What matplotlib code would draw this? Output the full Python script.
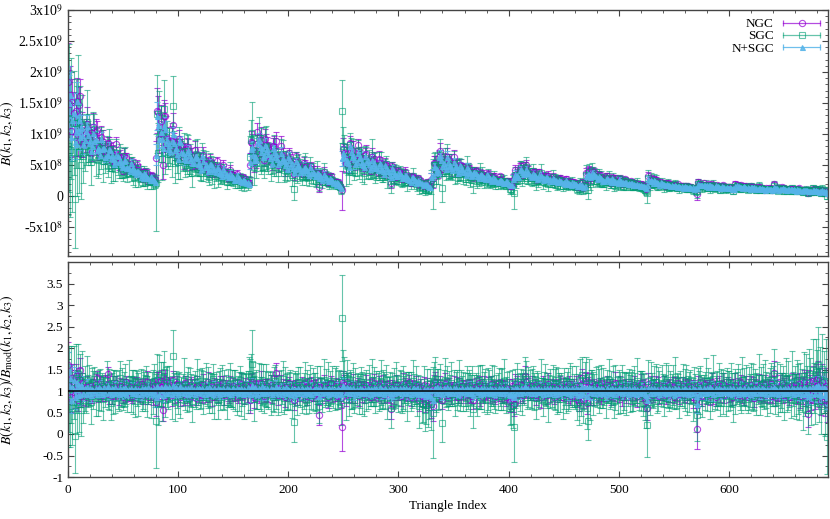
import numpy as np
import matplotlib
matplotlib.use("Agg")
import matplotlib.pyplot as plt
from matplotlib.lines import Line2D
from matplotlib.legend_handler import HandlerBase
from matplotlib.ticker import MultipleLocator, FixedLocator

# ─── DATA ──────────────────────────────────────────────────────────────────
# best-fit model shape per triangle (N+SGC), units of 1e7
MODEL_1E7 = [
    # block 1 (0-79)
    110, 130, 125, 118, 112, 107, 102, 98, 128, 118, 110, 103, 97, 92, 88, 84,
    112, 103, 95, 89, 84, 80, 76, 100, 92, 85, 79, 74, 70, 67, 88, 81, 75, 70, 66, 62, 59,
    78, 72, 66, 62, 58, 55, 52, 68, 63, 58, 54, 51, 48, 46, 58, 53, 49, 46, 43, 41,
    50, 46, 43, 40, 37, 35, 42, 39, 36, 34, 32, 30, 36, 33, 31, 29, 27, 26, 30, 28, 26, 24, 23,
    # block 2 (80-164)
    78, 115, 108, 100, 94, 89, 85, 105, 97, 90, 84, 79, 75, 71, 94, 87, 81, 76, 71, 67, 64,
    84, 78, 72, 67, 63, 60, 57, 75, 69, 64, 60, 56, 53, 50, 67, 62, 57, 53, 50, 47, 45,
    60, 55, 51, 48, 45, 42, 40, 53, 49, 45, 42, 40, 38, 47, 43, 40, 37, 35, 33,
    41, 38, 35, 33, 31, 29, 36, 33, 31, 29, 27, 25, 31, 29, 27, 25, 23, 22, 27, 25, 23, 21, 20, 19,
    # block 3 (165-248)
    60, 72, 68, 64, 61, 58, 56, 90, 84, 78, 73, 69, 65, 62, 82, 76, 71, 66, 62, 59, 56,
    75, 69, 64, 60, 57, 54, 51, 68, 63, 58, 54, 51, 48, 46, 61, 56, 52, 49, 46, 43, 41,
    55, 51, 47, 44, 41, 39, 37, 49, 45, 42, 39, 37, 35, 43, 40, 37, 35, 33, 31,
    38, 35, 33, 31, 29, 27, 33, 31, 29, 27, 25, 23, 28, 26, 24, 22, 21, 19, 22, 20, 18, 16, 14,
    # block 4 (249-329)
    55, 62, 59, 56, 53, 51, 49, 75, 70, 65, 61, 58, 55, 52, 68, 63, 59, 55, 52, 49, 47,
    62, 57, 53, 50, 47, 45, 57, 53, 49, 46, 43, 41, 52, 48, 45, 42, 40, 38,
    47, 44, 41, 38, 36, 34, 42, 39, 36, 34, 32, 30, 38, 35, 33, 31, 29, 27,
    34, 31, 29, 27, 25, 24, 30, 28, 26, 24, 22, 21, 26, 24, 22, 21, 19, 18, 22, 20, 19, 17, 16, 14,
    # block 5 (330-403)
    35, 42, 45, 43, 41, 39, 37, 66, 61, 57, 53, 50, 47, 45, 58, 54, 50, 47, 44, 42,
    52, 48, 45, 42, 40, 38, 48, 44, 41, 39, 37, 35, 44, 41, 38, 36, 34, 32,
    40, 37, 35, 33, 31, 29, 36, 34, 32, 30, 28, 27, 33, 31, 29, 27, 25, 24,
    30, 28, 26, 24, 23, 22, 27, 25, 23, 22, 21, 20, 24, 22, 21, 20, 19, 17,
    # block 6 (404-469)
    30, 36, 34, 32, 31, 30, 44, 41, 38, 36, 34, 33, 40, 37, 35, 33, 31, 30,
    36, 34, 32, 30, 28, 27, 34, 32, 30, 28, 27, 26, 31, 29, 27, 26, 25, 24,
    28, 26, 25, 24, 23, 22, 26, 24, 23, 22, 21, 20, 24, 22, 21, 20, 19, 18,
    21, 20, 19, 18, 17, 16, 19, 18, 17, 16, 15, 14,
    # block 7 (470-525)
    30, 36, 34, 32, 31, 30, 38, 35, 33, 31, 29, 28, 31, 29, 27, 26, 25, 24,
    29, 27, 26, 25, 24, 23, 27, 25, 24, 23, 22, 21, 25, 24, 23, 22, 21, 20,
    23, 22, 21, 20, 19, 21, 20, 19, 18, 17, 19, 18, 17, 16, 16, 17, 16, 15, 15, 14,
    # block 8 (526-569)
    22, 26, 25, 24, 23, 22, 24, 23, 22, 21, 20, 19, 21, 20, 19, 18, 18, 17,
    19, 18, 17, 17, 16, 16, 17, 16, 16, 15, 15, 16, 15, 15, 14, 14,
    15, 14, 14, 13, 13, 14, 13, 13, 12, 12,
    # block 9 (570-605)
    14, 19, 19, 18, 17, 17, 18, 17, 17, 16, 16, 15, 17, 16, 16, 15, 15, 14,
    16, 15, 15, 14, 14, 13, 15, 14, 14, 13, 13, 12, 14, 13, 13, 12, 12, 11,
    # block 10 (606-640)
    16, 16, 15, 15, 14, 14, 13, 15, 15, 14, 14, 13, 13, 12, 14, 14, 13, 13, 12, 12, 11,
    13, 13, 12, 12, 11, 11, 10, 12, 12, 11, 11, 10, 10, 10,
    # block 11 (641-689)
    13, 13, 12, 12, 11, 11, 11, 12, 12, 11, 11, 10, 10, 10, 11, 11, 10, 10, 10, 9, 9,
    10, 10, 10, 9, 9, 9, 8, 10, 9, 9, 9, 8, 8, 8, 9, 9, 8, 8, 8, 7, 7,
    8, 8, 8, 7, 7, 7, 6,
]

# amplitude of each sample's best-fit model relative to MODEL_1E7
AMP_NGC = 1.04
AMP_SGC = 0.92
AMP_NSGC = 1.00

# (B / B_mod - 1) in units of 0.01
NGC_DEV = [
    60, 10, 25, -15, 30, 20, -10, 35, 15, -20, 28, 50, -12, 18, -8, 4, -14, 9, 0, -6, 12, 2, -10, 7, 1, 16, 30, -4, 8, -2,
    3, -9, 11, 0, -5, 14, 40, -7, 2, 6, -12, 9, -1, 4, 18, -3, -8, 12, 1, 5, -15, 7, 0, 20, -6, 3, 10, -2, -11, 6,
    0, 8, -4, 13, 2, -10, 5, 17, -7, 1, 9, -3, 22, -13, 4, 0, 11, -6, 3, 15, -25, 15, 20, -12, 24, 10, -44, 18, 28, -10,
    5, -2, 12, 0, -9, 26, 3, -5, 8, 16, -1, 6, -14, 10, 2, -7, 19, 1, -4, 9, 0, -11, 13, 4, -3, 7, -16, 11, 1, -6,
    8, 2, -10, 14, 0, -5, 6, 21, -8, 3, 1, -13, 9, 4, -2, 15, -7, 0, 11, -4, 5, 18, -9, 2, 7, -1, -12, 10, 3, -3,
    12, -6, 1, 9, -15, 4, 0, 17, -3, 6, -9, 13, 2, -1, 8, -20, 16, 20, 12, -14, 5, 0, 10, -7, 3, 19, -4, 1, -11, 7,
    2, 11, -5, 0, 15, -8, 4, 9, -2, 42, 6, -10, 1, 13, -4, 7, 0, -13, 10, 3, -6, 18, 1, -3, 8, -20, 5, 12, -9, 0,
    6, -1, 14, -7, 3, 0, 10, -12, 5, 8, -3, 16, 1, -9, 4, 11, -5, 2, -56, 9, 0, -8, 13, 3, -2, 7, -14, 6, 1, 19,
    -4, 8, 0, 12, -11, 5, 2, -6, -16, -84, 18, 14, -10, 22, 4, -3, 9, 0, -8, 13, 1, -5, 7, 17, -12, 3, 6, -1, 10, -7,
    2, 14, -4, 0, 9, -13, 6, 1, 18, -5, 3, -9, 11, 7, -2, 0, 15, -10, 4, 8, -1, 12, -6, -42, 10, 2, -8, 5, 13, -3,
    0, 7, -11, 4, 16, -2, 9, -7, 1, 5, 20, -14, 3, 0, 8, -5, 12, -1, 6, -20, 10, -12, -16, 14, -24, -18, 12, -22, -14, 8,
    -30, -35, 14, 20, -4, 9, 1, -8, 13, 0, -20, 6, 17, -2, 4, -10, 11, 2, -6, 8, 15, -3, 0, 10, -13, 5, 1, -7, 12, 3,
    -1, 9, -6, 4, 14, 0, -11, 7, -22, 2, 10, -3, 5, 18, -8, 1, 6, -15, 12, 0, -4, 8, 3, -9, 16, -2, 5, 0, -12, 11,
    4, -5, 13, 1, -8, 7, 0, 10, -14, 3, 6, -24, -20, 12, -18, -30, 16, -4, 9, 2, -7, 14, 0, -10, 5, 35, 20, -3, 8, 1,
    -6, 11, 2, -1, 15, -9, 4, 0, 8, -13, 3, 12, -4, 6, 1, -10, 17, 0, -3, 9, 5, -15, 2, 10, -7, 4, 0, 13, -5, 7,
    1, -8, 10, 3, -2, 16, -11, 5, 0, 8, -6, 12, -18, 4, -25, 14, -10, 30, -20, 24, 16, -28, 10, 22, -10, 6, 0, -7, 11, 2,
    8, -4, 1, 13, -10, 5, 0, 9, -2, 15, -7, 3, 11, -12, 6, 1, -5, 18, -1, 4, -9, 10, 2, -14, 7, 0, 12, -3, 5, -8,
    3, 10, -6, 0, 14, -3, 7, -11, 2, 5, 17, -8, 1, 9, -16, -24, -40, 16, -5, 11, 0, -9, 6, 2, 13, -4, 8, -12, 3, 0,
    -2, 12, 4, -9, 7, 0, 15, -5, 2, 10, -13, 6, 1, -3, 18, -7, 4, 0, 11, -10, 3, 8, -6, 14, 1, -2, 9, -15, 5, 2,
    -20, -88, 14, -6, 9, 1, -12, 16, 3, -4, 7, 0, 11, -9, 5, 20, -3, 2, -14, 8, 0, 12, -7, 4, -1, 17, -10, 6, 1, 9,
    -5, 10, 2, -13, 6, 0, 15, -4, 8, -9, 3, 19, -2, 7, -11, 1, 12, -6, 4, 0, 14, -8, 5, -16, 9, 2, -3, 11, 0, -7,
    6, 1, -10, 13, 3, -5, 9, 0, 16, -12, 4, 42, -14, 7, 2, -6, 10, -1, 18, -9, 5, 0, 12, -4, 8, -15, 3, 11, -2, 6,
    0, 13, -7, 4, 17, -12, 6, 1, 22, -9, 10, -4, -53, 20, 5, -18, 24, 2, -10, 26, 12, 30, -6, 14, -24, 22, 8, -20, 12, -30,
]
SGC_DEV = [
    -20, 5, -35, 15, -40, 20, -105, 30, -25, 40, -30, 25, -45, 35, -20, 5, -12, 25, 0, 14, -6, -25, 18, 3, 28, -9, 10, -16, 2, 22,
    -4, 12, -18, 7, 0, 24, -10, 3, 15, -27, 6, -2, 19, -8, 11, -14, 1, 30, -5, 9, -20, 4, 13, -1, -11, 26, 8, -6, 16, -3,
    2, -15, 21, 6, -9, 0, 14, -22, 4, 10, -5, 28, -12, 7, 1, -18, 12, -3, 23, -7, -70, 25, -30, 40, 15, -28, 32, 45, -20, 26,
    10, -8, 18, 3, -14, 82, 5, -25, 20, 0, -6, 13, -19, 8, 2, 24, -11, 6, -2, 15, -16, 9, 1, -23, 12, 4, -7, 27, -1, 11,
    -13, 5, 17, -4, 0, 22, -9, 8, -17, 3, 14, -6, 29, -12, 6, 1, -21, 10, 4, -3, 19, -8, 2, 12, -26, 7, 0, 16, -10, 5,
    -5, 18, 2, -14, 9, -1, 25, -7, 4, 11, -20, 6, 13, -3, 40, 15, 35, 63, 25, -18, 10, 3, -12, 21, -5, 8, 0, 16, -22, 6,
    12, -4, 1, 19, -9, 7, -15, 3, 24, -2, 9, -11, 14, 0, -6, 28, -17, 5, 10, -1, -8, 16, 2, -24, 11, -73, 6, 13, -7, 20,
    -3, 9, -13, 4, 0, 17, -20, 8, 2, -6, 23, -10, 5, 12, -2, -16, 7, 1, -35, 14, 3, -9, 26, -4, 10, -1, 18, -12, 5, 0,
    15, -7, 4, 21, -14, 2, 9, -3, -30, 170, 40, 35, -18, 30, 6, -11, 19, 1, -5, 13, -21, 8, 3, 16, -9, 0, 22, -4, 11, -15,
    7, 1, -12, 18, 3, -8, 25, -2, 10, -19, 5, 14, 0, -6, 20, -13, 4, 9, -1, 27, -16, 6, 2, -40, 12, -4, 8, -10, 16, 3,
    -7, 21, 0, -14, 9, 4, -3, 17, -22, 6, 11, -1, -9, 24, 2, -5, 13, -17, 7, -35, 1, -28, -30, 20, -45, -32, 16, -38, -25, 18,
    -30, -50, 22, 28, -6, 14, 3, -11, 19, 0, -74, 9, 25, -4, 12, -15, 5, 1, 18, -8, 7, -20, 13, 2, -3, 23, -12, 6, 10, -1,
    4, -16, 11, 0, 20, -7, 3, 14, -42, 8, 1, -10, 26, -5, 9, -13, 17, 2, -2, 12, -19, 5, 22, -8, 0, 15, -4, 7, -14, 10,
    -1, 18, -6, 3, 13, -11, 24, 2, -9, 7, 0, -40, -35, 18, -32, -84, 6, -12, 16, 4, -3, 21, -8, 10, 1, 35, 28, -15, 9, 14,
    -10, 5, 19, -2, 8, -17, 12, 0, -6, 23, 3, -13, 7, 15, -4, 1, -21, 11, 6, -1, 18, -9, 4, 26, -14, 2, 9, -5, 13, -18,
    6, 0, -11, 16, 3, -7, 22, -3, 10, 1, -15, 12, -28, 5, -40, 26, -20, 38, -35, 30, 25, -40, -70, 32, -22, 8, 17, -6, 2, 11,
    -9, 14, 1, -4, 20, -12, 7, 0, -18, 10, 3, 25, -7, 5, -1, 13, -23, 8, 2, -10, 16, -3, 6, 19, -15, 0, 11, -5, 4, 22,
    -6, 9, 1, -16, 13, 4, -2, 24, -11, 6, 0, 15, -8, 2, -30, -40, -79, 24, -12, 18, 3, -7, 11, -1, 21, -14, 5, 9, -4, 16,
    1, -12, 7, 20, -3, 10, -19, 4, 0, 14, -8, 27, -5, 2, 12, -15, 6, -1, 17, -9, 3, 23, -13, 8, -2, 11, 1, -20, 15, 5,
    -40, -56, 9, -4, 19, 2, -14, 7, 0, 24, -8, 12, 3, -18, 10, -2, 29, -10, 5, 1, -6, 16, -21, 8, 13, -3, 4, -12, 20, 0,
    6, -9, 15, 2, -25, 11, -1, 7, 18, -6, 3, -14, 26, 0, 9, -4, 13, -19, 5, 1, 21, -11, 8, -2, 16, -7, 4, 30, -16, 10,
    0, 14, -8, 22, 3, -13, 6, 1, 25, -5, 11, 40, -10, 4, 17, -22, 7, 2, -3, 19, -15, 9, 28, -6, 12, 0, -18, 33, 5, -9,
    15, -12, 26, 4, -20, 10, 2, -28, 35, -8, 18, 6, -45, 40, 12, -25, 50, 8, -15, 45, 30, 60, -10, 25, -35, 52, 20, -30, 38, -107,
]
NSGC_DEV = [
    50, 15, 30, -20, 10, 25, -15, 5, 20, -10, 12, -8, 15, 6, -5, 8, -6, 10, 3, -4, 7, -9, 5, 2, -3, 8, -6, 4, 9, -2,
    5, -7, 3, 10, -4, 6, 12, -3, 2, -8, 7, 4, -5, 9, -2, 3, -6, 8, 1, -4, 6, -3, 10, -7, 2, 5, -1, 7, -5, 3,
    -4, 8, 2, -6, 5, 3, -8, 6, -2, 4, 7, -5, 1, 9, -3, 5, -6, 2, 8, -4, -15, 12, 6, -8, 10, 3, -10, 7, 12, -5,
    8, -4, 10, 3, -6, 14, 5, -3, 9, 2, -7, 6, 11, -2, 4, -5, 8, 3, -6, 7, 2, -4, 9, -1, 5, -7, 3, 8, -3, 6,
    4, -5, 7, 2, -8, 6, 3, -4, 9, -2, 5, 1, -6, 8, 3, -3, 6, -7, 4, 2, -5, 7, 3, -2, 8, -4, 5, 1, -6, 4,
    6, -3, 2, 8, -5, 4, -2, 7, 3, -6, 5, 2, -4, 9, 1, -8, 6, 15, 4, -5, 10, 3, -6, 8, 2, -4, 11, -3, 6, 1,
    -5, 7, 3, -2, 8, -6, 4, 2, -3, 12, 5, -4, 7, 1, -7, 6, 3, -2, 9, -5, 4, 2, -6, 8, -3, -10, 5, 3, -4, 7,
    2, -5, 6, 3, -8, 5, -2, 7, 1, -4, 8, -6, 3, 5, -3, 6, -2, 4, -12, 7, 2, -5, 8, -3, 4, 1, -6, 7, 3, -4,
    6, -2, 5, -7, 3, 8, -4, 2, -6, 10, 12, 6, -3, 9, 4, -5, 7, 2, -4, 8, 3, -6, 5, 1, -3, 7, -5, 4, 2, -2,
    5, -4, 8, 2, -6, 4, 3, -5, 7, -2, 6, 1, -4, 9, -3, 5, 2, -7, 6, 3, -2, 4, -5, -10, 7, 2, -4, 6, -1, 5,
    -3, 7, 2, -5, 6, 4, -2, 8, -4, 3, 5, -6, 2, 7, -3, 4, -5, 6, 1, -8, 3, -4, -6, 5, -12, -8, 4, -10, -6, 2,
    -15, -20, 5, 8, -4, 10, 3, -5, 7, 2, -8, 6, 4, -3, 9, 1, -5, 7, 3, -2, 6, -4, 8, 2, -6, 5, 3, -3, 7, -1,
    4, -5, 6, 2, -3, 8, -4, 5, -9, 3, 7, -2, 4, 1, -6, 6, 3, -4, 8, -2, 5, 2, -5, 7, -3, 4, 1, -6, 5, 3,
    -2, 6, -4, 3, 7, -5, 2, 5, -3, 8, -6, -10, -8, 4, -7, -15, 6, -5, 8, 3, -4, 7, 2, -3, 6, 12, 8, -2, 5, 3,
    -4, 7, 2, -5, 6, 3, -3, 8, -2, 4, 1, -6, 5, 3, -4, 7, 2, -5, 6, -3, 4, 2, -6, 8, -1, 5, -4, 3, 6, -2,
    5, -3, 7, 2, -5, 4, 1, -6, 6, 3, -2, 8, -7, 4, -10, 5, -3, 12, -8, 10, 6, -12, 4, 9, -3, 6, 2, -5, 7, 3,
    -4, 6, 2, -3, 8, -5, 4, 1, -6, 7, 3, -2, 5, -4, 6, 2, -7, 4, 3, -3, 8, -1, 5, -5, 3, 6, -2, 4, -6, 7,
    2, -3, 5, -4, 6, 3, -7, 4, 1, -5, 8, -2, 3, 5, -6, -10, -20, 6, -4, 8, 3, -5, 7, 2, -3, 5, 1, -6, 6, 3,
    -2, 7, -4, 4, 2, -5, 8, -3, 5, 1, -6, 6, 3, -4, 7, 2, -3, 5, -5, 4, 6, -2, 3, -7, 5, 2, -4, 8, -3, 4,
    -12, -30, 5, -6, 7, 3, -4, 8, 2, -5, 6, -3, 4, 9, -2, 5, -6, 3, 7, -4, 2, 6, -5, 4, 3, -3, 8, -2, 5, 1,
    -4, 6, 3, -5, 7, 2, -3, 5, -6, 4, 8, -2, 3, -5, 6, 1, -4, 7, 3, -6, 5, 2, -3, 8, -4, 4, 6, -2, 3, -5,
    7, -3, 4, 2, -6, 5, 3, -4, 8, -2, 5, 10, -5, 4, 2, -7, 6, 3, -3, 5, -4, 7, 1, -5, 6, 3, -2, 8, -6, 4,
    3, -4, 7, 2, -5, 6, -8, 4, 10, -6, 5, -3, -12, 8, 6, -7, 10, 4, -5, 12, 8, 14, -6, 5, -10, 9, 6, -8, 4, -15,
]

# 1-sigma error on B / B_mod, units of 0.01
NGC_ERR = [
    55, 40, 36, 34, 32, 30, 30, 28, 28, 27, 26, 26, 25, 24, 24, 23, 20, 25, 18, 23, 16, 25, 19, 22, 15, 24, 17, 21, 26, 14,
    21, 15, 25, 13, 19, 23, 16, 24, 12, 20, 18, 26, 14, 22, 17, 13, 24, 19, 16, 22, 12, 20, 25, 15, 18, 23, 14, 21, 17, 26,
    16, 22, 13, 20, 25, 15, 19, 12, 23, 17, 21, 14, 24, 18, 13, 22, 16, 26, 19, 15, 34, 30, 24, 22, 26, 21, 25, 24, 20, 15,
    23, 16, 20, 14, 25, 21, 18, 22, 13, 19, 24, 15, 21, 12, 18, 26, 17, 14, 23, 20, 15, 22, 19, 24, 13, 21, 17, 23, 16, 20,
    14, 22, 18, 25, 15, 21, 13, 24, 17, 20, 14, 23, 16, 26, 19, 13, 22, 18, 24, 15, 20, 17, 23, 12, 19, 22, 16, 25, 14, 21,
    18, 15, 24, 20, 13, 22, 16, 25, 19, 14, 22, 18, 13, 24, 20, 30, 24, 22, 21, 26, 17, 23, 15, 21, 19, 27, 16, 23, 14, 20,
    25, 17, 21, 13, 23, 19, 15, 26, 18, 22, 14, 22, 16, 24, 12, 21, 18, 25, 15, 22, 17, 14, 23, 19, 16, 24, 20, 13, 24, 18,
    15, 23, 19, 13, 21, 25, 17, 20, 14, 23, 18, 16, 24, 14, 22, 18, 26, 15, 24, 22, 13, 19, 24, 16, 21, 13, 25, 17, 20, 15,
    22, 16, 24, 18, 13, 22, 20, 15, 24, 55, 28, 23, 25, 20, 17, 23, 14, 21, 19, 26, 15, 23, 18, 13, 22, 19, 16, 24, 14, 21,
    17, 24, 15, 21, 19, 13, 25, 17, 22, 15, 20, 14, 23, 18, 26, 14, 22, 18, 20, 16, 24, 13, 21, 22, 15, 19, 22, 15, 25, 17,
    20, 14, 23, 18, 25, 16, 21, 13, 24, 19, 17, 22, 15, 24, 18, 13, 22, 20, 15, 26, 17, 23, 21, 19, 24, 22, 18, 23, 20, 16,
    32, 34, 23, 25, 21, 18, 24, 15, 22, 14, 22, 19, 26, 17, 23, 14, 20, 18, 24, 13, 21, 19, 16, 23, 15, 25, 17, 21, 13, 22,
    19, 15, 23, 21, 14, 25, 17, 22, 20, 14, 20, 24, 16, 18, 26, 15, 21, 13, 23, 19, 17, 24, 14, 20, 18, 22, 15, 25, 19, 13,
    22, 18, 14, 24, 20, 16, 25, 13, 21, 18, 23, 24, 22, 15, 30, 28, 23, 21, 25, 18, 22, 15, 24, 19, 16, 24, 20, 14, 23, 17,
    15, 23, 19, 21, 13, 24, 17, 20, 16, 26, 14, 22, 18, 23, 15, 20, 25, 13, 22, 18, 21, 16, 24, 14, 19, 25, 17, 21, 15, 23,
    23, 16, 20, 14, 25, 18, 22, 15, 24, 19, 13, 22, 20, 17, 22, 24, 19, 22, 20, 19, 28, 25, 22, 21, 23, 20, 16, 25, 18, 22,
    14, 21, 25, 17, 20, 13, 23, 16, 22, 19, 15, 24, 18, 21, 14, 23, 19, 26, 15, 22, 17, 24, 13, 20, 18, 22, 16, 25, 19, 14,
    21, 18, 24, 15, 22, 19, 13, 26, 17, 20, 23, 15, 24, 18, 19, 22, 28, 25, 22, 25, 20, 16, 23, 14, 21, 18, 25, 19, 15, 22,
    19, 23, 15, 22, 17, 25, 14, 21, 19, 23, 16, 26, 18, 20, 13, 24, 20, 17, 22, 15, 24, 18, 21, 13, 23, 19, 16, 25, 20, 17,
    28, 48, 22, 25, 20, 18, 23, 15, 22, 26, 19, 21, 14, 24, 17, 22, 27, 16, 20, 23, 15, 24, 18, 21, 14, 25, 19, 22, 17, 23,
    20, 17, 25, 19, 23, 15, 26, 18, 22, 14, 24, 18, 26, 16, 22, 20, 23, 16, 25, 19, 21, 15, 27, 21, 18, 24, 17, 28, 20, 22,
    18, 24, 16, 25, 21, 22, 18, 26, 20, 15, 23, 28, 22, 19, 25, 17, 27, 20, 23, 19, 26, 17, 24, 21, 28, 18, 22, 30, 20, 24,
    22, 26, 23, 29, 24, 27, 25, 31, 27, 25, 34, 26, 30, 29, 32, 27, 35, 29, 31, 37, 33, 40, 31, 39, 32, 40, 36, 37, 42, 42,
]
SGC_ERR = [
    110, 100, 95, 90, 85, 85, 85, 80, 75, 70, 65, 62, 60, 58, 55, 52, 40, 56, 38, 47, 30, 52, 36, 44, 28, 50, 34, 41, 46, 29,
    42, 31, 50, 26, 38, 45, 33, 48, 24, 40, 36, 52, 29, 43, 35, 27, 47, 39, 32, 44, 25, 41, 49, 30, 37, 46, 28, 42, 34, 51,
    33, 45, 27, 40, 50, 31, 38, 24, 46, 35, 42, 29, 48, 37, 26, 44, 32, 51, 39, 30, 110, 60, 48, 44, 52, 41, 35, 49, 40, 30,
    47, 33, 41, 28, 50, 60, 36, 45, 27, 39, 48, 31, 43, 25, 37, 52, 34, 29, 46, 40, 30, 44, 38, 49, 26, 42, 35, 47, 32, 40,
    28, 45, 37, 50, 31, 42, 26, 48, 35, 40, 29, 46, 33, 52, 38, 27, 44, 36, 49, 30, 41, 34, 47, 25, 39, 45, 32, 50, 28, 43,
    37, 30, 48, 41, 26, 45, 33, 51, 38, 29, 44, 36, 27, 49, 40, 60, 50, 80, 42, 52, 35, 46, 30, 43, 38, 55, 33, 47, 28, 41,
    50, 34, 43, 27, 46, 38, 31, 52, 36, 40, 29, 45, 33, 48, 25, 42, 37, 50, 30, 44, 35, 28, 47, 39, 32, 45, 41, 26, 49, 36,
    30, 47, 38, 26, 43, 51, 34, 40, 28, 46, 37, 32, 49, 29, 44, 36, 52, 31, 40, 45, 27, 39, 48, 33, 42, 26, 50, 35, 41, 30,
    44, 32, 49, 37, 27, 45, 40, 30, 48, 100, 55, 45, 50, 41, 35, 47, 29, 43, 38, 52, 31, 46, 36, 27, 44, 39, 33, 49, 28, 42,
    35, 48, 30, 43, 39, 26, 50, 34, 45, 31, 41, 28, 47, 37, 52, 29, 44, 36, 40, 33, 49, 27, 42, 46, 31, 38, 45, 30, 51, 35,
    41, 29, 46, 36, 50, 32, 43, 27, 48, 38, 34, 45, 30, 49, 37, 26, 44, 40, 31, 52, 35, 47, 42, 39, 48, 44, 36, 46, 40, 33,
    60, 105, 45, 50, 42, 37, 48, 31, 44, 28, 45, 39, 52, 34, 46, 29, 41, 36, 49, 27, 43, 38, 32, 47, 30, 50, 35, 42, 26, 45,
    38, 31, 47, 42, 28, 50, 35, 44, 45, 29, 40, 48, 33, 37, 52, 30, 43, 26, 46, 39, 34, 49, 28, 41, 36, 45, 31, 50, 38, 27,
    44, 36, 29, 48, 40, 33, 51, 27, 42, 37, 46, 40, 42, 31, 55, 80, 45, 42, 50, 36, 44, 30, 48, 39, 33, 45, 41, 28, 47, 35,
    30, 46, 38, 43, 27, 49, 35, 41, 32, 52, 28, 44, 37, 47, 31, 40, 50, 26, 45, 36, 42, 33, 48, 29, 39, 51, 34, 43, 30, 46,
    47, 32, 41, 28, 50, 36, 44, 30, 48, 38, 26, 45, 40, 34, 40, 49, 38, 42, 40, 38, 55, 48, 45, 42, 46, 40, 33, 50, 37, 44,
    29, 43, 51, 35, 40, 27, 47, 33, 45, 38, 31, 49, 36, 42, 28, 46, 39, 52, 30, 44, 34, 48, 26, 41, 37, 45, 32, 50, 38, 29,
    43, 36, 48, 30, 45, 39, 27, 52, 34, 41, 46, 31, 49, 37, 38, 45, 75, 48, 44, 50, 40, 33, 47, 29, 42, 36, 51, 38, 30, 45,
    38, 47, 31, 44, 35, 50, 28, 42, 39, 46, 33, 52, 36, 41, 27, 48, 40, 34, 45, 30, 49, 37, 43, 26, 47, 39, 32, 50, 41, 35,
    55, 60, 44, 50, 40, 36, 47, 31, 45, 52, 38, 42, 29, 48, 35, 44, 54, 33, 40, 46, 30, 49, 37, 43, 28, 51, 39, 45, 34, 47,
    41, 35, 50, 39, 46, 31, 53, 37, 44, 29, 48, 36, 52, 33, 45, 40, 47, 32, 50, 38, 43, 30, 54, 42, 36, 49, 34, 56, 40, 45,
    37, 48, 33, 51, 42, 45, 36, 53, 40, 31, 47, 58, 44, 39, 50, 35, 55, 41, 46, 38, 52, 34, 49, 43, 57, 37, 45, 60, 40, 48,
    44, 52, 46, 58, 48, 55, 50, 62, 55, 50, 68, 52, 55, 58, 64, 55, 70, 58, 62, 75, 66, 90, 62, 78, 65, 80, 72, 75, 84, 85,
]
NSGC_ERR = [
    40, 35, 30, 32, 28, 30, 26, 25, 24, 22, 22, 20, 20, 18, 18, 16, 13, 17, 12, 15, 10, 16, 12, 14, 9, 15, 11, 13, 16, 9,
    13, 10, 16, 8, 12, 15, 10, 15, 8, 13, 11, 16, 9, 14, 11, 8, 15, 12, 10, 14, 8, 13, 16, 9, 12, 15, 9, 13, 11, 16,
    10, 14, 8, 13, 16, 9, 12, 8, 15, 11, 13, 9, 15, 12, 8, 14, 10, 16, 12, 9, 22, 20, 16, 15, 16, 14, 15, 15, 13, 10,
    15, 10, 13, 9, 16, 14, 11, 14, 8, 12, 15, 10, 13, 8, 12, 16, 11, 9, 15, 13, 10, 14, 12, 15, 8, 13, 11, 15, 10, 13,
    9, 14, 12, 16, 10, 13, 8, 15, 11, 13, 9, 15, 10, 16, 12, 8, 14, 12, 15, 10, 13, 11, 15, 8, 12, 14, 10, 16, 9, 13,
    12, 10, 15, 13, 8, 14, 10, 16, 12, 9, 14, 12, 8, 15, 13, 20, 16, 15, 14, 16, 11, 15, 10, 13, 12, 17, 10, 15, 9, 13,
    16, 11, 13, 8, 15, 12, 10, 16, 12, 14, 9, 14, 10, 15, 8, 13, 12, 16, 10, 14, 11, 9, 15, 12, 10, 15, 13, 8, 15, 12,
    10, 15, 12, 8, 13, 16, 11, 13, 9, 15, 12, 10, 15, 9, 14, 12, 16, 10, 15, 14, 8, 12, 15, 10, 13, 8, 16, 11, 13, 10,
    14, 10, 15, 12, 8, 14, 13, 10, 15, 22, 18, 15, 16, 13, 11, 15, 9, 13, 12, 16, 10, 15, 12, 8, 14, 12, 10, 15, 9, 13,
    11, 15, 10, 13, 12, 8, 16, 11, 14, 10, 13, 9, 15, 12, 16, 9, 14, 12, 13, 10, 15, 8, 13, 14, 10, 12, 14, 10, 16, 11,
    13, 9, 15, 12, 16, 10, 13, 8, 15, 12, 11, 14, 10, 15, 12, 8, 14, 13, 10, 16, 11, 15, 13, 12, 15, 14, 12, 15, 13, 10,
    22, 24, 15, 16, 13, 12, 15, 10, 14, 9, 14, 12, 16, 11, 15, 9, 13, 12, 15, 8, 13, 12, 10, 15, 10, 16, 11, 13, 8, 14,
    12, 10, 15, 13, 9, 16, 11, 14, 13, 9, 13, 15, 10, 12, 16, 10, 13, 8, 15, 12, 11, 15, 9, 13, 12, 14, 10, 16, 12, 8,
    14, 12, 9, 15, 13, 10, 16, 8, 13, 12, 15, 15, 14, 10, 20, 18, 15, 13, 16, 12, 14, 10, 15, 12, 10, 15, 13, 9, 15, 11,
    10, 15, 12, 13, 8, 15, 11, 13, 10, 16, 9, 14, 12, 15, 10, 13, 16, 8, 14, 12, 13, 10, 15, 9, 12, 16, 11, 13, 10, 15,
    15, 10, 13, 9, 16, 12, 14, 10, 15, 12, 8, 14, 13, 11, 14, 15, 12, 14, 13, 12, 18, 16, 14, 14, 15, 13, 10, 16, 12, 14,
    9, 13, 16, 11, 13, 8, 15, 10, 14, 12, 10, 15, 12, 13, 9, 15, 12, 16, 10, 14, 11, 15, 8, 13, 12, 14, 10, 16, 12, 9,
    13, 12, 15, 10, 14, 12, 8, 16, 11, 13, 15, 10, 15, 12, 12, 14, 18, 16, 14, 16, 13, 10, 15, 9, 13, 12, 16, 12, 10, 14,
    12, 15, 10, 14, 11, 16, 9, 13, 12, 15, 10, 16, 12, 13, 8, 15, 13, 11, 14, 10, 15, 12, 13, 8, 15, 12, 10, 16, 13, 11,
    18, 20, 14, 16, 13, 12, 15, 10, 14, 16, 12, 13, 9, 15, 11, 14, 17, 10, 13, 15, 10, 15, 12, 13, 9, 16, 12, 14, 11, 15,
    13, 11, 16, 12, 15, 10, 16, 12, 14, 9, 15, 12, 16, 10, 14, 13, 15, 10, 16, 12, 13, 10, 17, 13, 12, 15, 11, 17, 13, 14,
    12, 15, 10, 16, 13, 14, 12, 16, 13, 10, 15, 17, 14, 12, 16, 11, 17, 13, 15, 12, 16, 11, 15, 13, 17, 12, 14, 18, 13, 15,
    14, 16, 15, 18, 15, 17, 16, 19, 17, 16, 21, 17, 19, 18, 20, 17, 22, 18, 20, 23, 21, 24, 20, 24, 21, 25, 23, 24, 27, 28,
]

Y_TICKS_TOP = [-5e8, 0, 5e8, 1e9, 1.5e9, 2e9, 2.5e9, 3e9]
Y_LABELS_TOP = [r"-5x10$^{8}$", "0", r"5x10$^{8}$", r"1x10$^{9}$", r"1.5x10$^{9}$",
                r"2x10$^{9}$", r"2.5x10$^{9}$", r"3x10$^{9}$"]

# ─── STYLE ─────────────────────────────────────────────────────────────────
plt.rcParams['font.family'] = ['Liberation Serif', 'DejaVu Serif']
plt.rcParams['mathtext.fontset'] = 'stix'
plt.rcParams['font.size'] = 9.5

C_NGC, C_SGC, C_NSGC = '#9400D3', '#009E73', '#56B4E9'
FRAME = '#444444'

n = min(len(MODEL_1E7), len(NGC_DEV), len(SGC_DEV), len(NSGC_DEV),
        len(NGC_ERR), len(SGC_ERR), len(NSGC_ERR))
idx = np.arange(n)
model = np.array(MODEL_1E7[:n], float) * 1e7

series = [
    ("NGC", AMP_NGC, NGC_DEV, NGC_ERR, C_NGC, 'o', 'none', 4.5, 0.7),
    ("SGC", AMP_SGC, SGC_DEV, SGC_ERR, C_SGC, 's', 'none', 4.2, 0.6),
    ("N+SGC", AMP_NSGC, NSGC_DEV, NSGC_ERR, C_NSGC, '^', C_NSGC, 3.6, 0.85),
]

fig = plt.figure(figsize=(8.3, 5.19), dpi=100)
ax1 = fig.add_axes([68 / 830, 1 - 256 / 519, 760 / 830, 246 / 519])
ax2 = fig.add_axes([68 / 830, 1 - 477 / 519, 760 / 830, 215 / 519])

for name, amp, dev, err, col, mk, mfc, ms, alpha in series:
    ratio = 1 + np.array(dev[:n], float) / 100
    rerr = np.array(err[:n], float) / 100
    bmod = model * amp
    kw = dict(fmt=mk, ls='none', color=col, mfc=mfc, mec=col, ms=ms, mew=0.8,
              elinewidth=0.8, capsize=2.2, capthick=0.8, alpha=alpha)
    ax1.errorbar(idx, bmod * ratio, yerr=bmod * rerr, **kw)
    ax2.errorbar(idx, ratio, yerr=rerr, **kw)

ax2.axhline(1.0, color='black', lw=1.1, zorder=10)


class KeyHandler(HandlerBase):
    # gnuplot-like key sample: horizontal bar with end ticks, point in the middle
    def create_artists(self, legend, orig, xdescent, ydescent, width, height, fontsize, trans):
        y = height / 2 - ydescent
        x0, x1 = -xdescent, -xdescent + width
        c = orig.get_color()
        a = orig.get_alpha()
        bar = Line2D([x0, x1], [y, y], color=c, lw=0.9, alpha=a)
        caps = Line2D([x0, x1], [y, y], ls='none', marker='|', ms=5, mew=0.9, color=c, alpha=a)
        pt = Line2D([(x0 + x1) / 2], [y], ls='none', marker=orig.get_marker(),
                    ms=orig.get_markersize(), mfc=orig.get_markerfacecolor(),
                    mec=c, mew=0.8, alpha=a)
        for art in (bar, caps, pt):
            art.set_transform(trans)
        return [bar, caps, pt]


handles = [Line2D([], [], color=s[4], marker=s[5], mfc=s[6], ms=s[7], alpha=s[8])
           for s in series]
ax1.legend(handles, [s[0] for s in series], handler_map={Line2D: KeyHandler()},
           loc='upper right', frameon=False, markerfirst=False, handlelength=2.8,
           handletextpad=0.7, labelspacing=0.0, borderaxespad=0.2, fontsize=9.5)

# ─── AXES ──────────────────────────────────────────────────────────────────
for ax in (ax1, ax2):
    ax.set_xlim(0, 690)
    ax.xaxis.set_major_locator(MultipleLocator(100))
    ax.xaxis.set_minor_locator(MultipleLocator(20))
    ax.tick_params(which='both', direction='in', top=True, right=True, colors=FRAME,
                   labelcolor='black', labelsize=9.5)
    ax.tick_params(which='major', length=4.5, width=0.8)
    ax.tick_params(which='minor', length=2.3, width=0.6)
    for sp in ax.spines.values():
        sp.set_color(FRAME)
        sp.set_linewidth(1.0)

ax1.set_ylim(-0.97e9, 3e9)
ax1.yaxis.set_major_locator(FixedLocator(Y_TICKS_TOP))
ax1.set_yticklabels(Y_LABELS_TOP)
ax1.yaxis.set_minor_locator(MultipleLocator(1e8))
ax1.tick_params(labelbottom=False)
ax1.tick_params(axis='y', labelsize=10)
ax1.set_ylabel(r"$B(k_1,k_2,k_3)$", fontsize=10)
ax1.yaxis.set_label_coords(-0.068, 0.5)

ax2.set_ylim(-1, 4)
ax2.yaxis.set_major_locator(FixedLocator(np.arange(-1, 3.51, 0.5)))
ax2.yaxis.set_major_formatter(plt.FuncFormatter(lambda v, p: f"{v:g}"))
ax2.yaxis.set_minor_locator(MultipleLocator(0.25))
ax2.tick_params(axis='x', pad=5)
ax2.set_xlabel("Triangle Index", fontsize=9.5, labelpad=3)
ax2.set_ylabel(r"$B(k_1,k_2,k_3)/B_{\rm mod}(k_1,k_2,k_3)$", fontsize=10)
ax2.yaxis.set_label_coords(-0.068, 0.5)

fig.savefig("out.png", dpi=100)
